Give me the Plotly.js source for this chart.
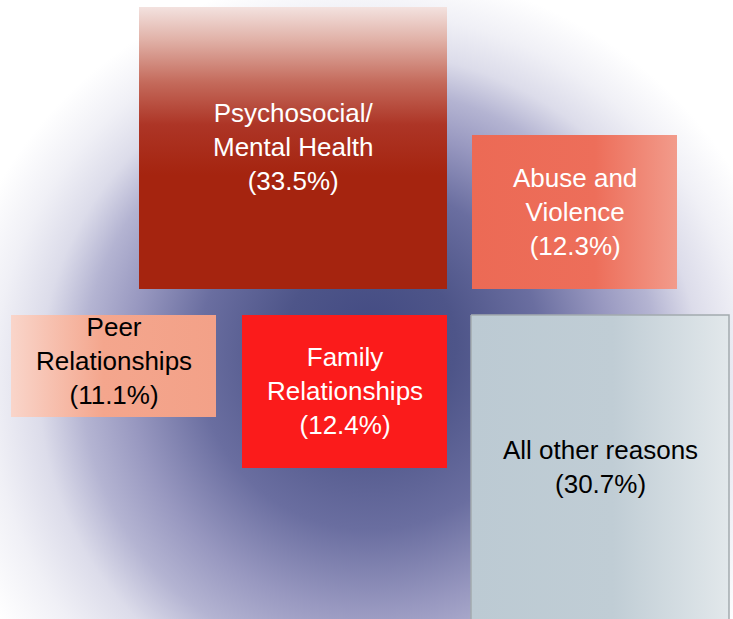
<!DOCTYPE html>
<html>
<head>
<meta charset="utf-8">
<script src="https://cdn.plot.ly/plotly-3.0.1.min.js"></script>
<style>
    html, body { margin: 0; padding: 0; background: #fff; }
    #chart { width: 733px; height: 619px; }
</style>
</head>
<body>
<div id="chart"></div>
<script>
const categories = ["Psychosocial/<br>Mental Health", "Abuse and<br>Violence", "Peer<br>Relationships",
                    "Family<br>Relationships", "All other reasons"];
const shares = [33.5, 12.3, 11.1, 12.4, 30.7];

// where each box sits, in pixel units of the 733x619 slide
const boxLeft   = [139, 472, 11, 242, 471];
const boxRight  = [447, 677, 216, 447, 729];
const boxTop    = [7, 135, 315, 315, 315];
const boxBottom = [289, 289, 417, 468, 660];
const labelNudge = [-1, 0, -5, -1, 0];   // small vertical tweak of each label

const BOX_STYLE = [
    { text: "#ffffff", line: null,
      grad: { type: "vertical", start: 7, stop: 175,
              colorscale: [[0, "#f3e2df"], [0.2, "#e0b0a6"], [0.45, "#c46a5b"], [0.7, "#ad3526"], [1, "#a5240f"]] } },
    { text: "#ffffff", line: null,
      grad: { type: "horizontal", start: 472, stop: 677,
              colorscale: [[0, "#ec6a55"], [0.6, "#ed6e5a"], [1, "#f29b8b"]] } },
    { text: "#000000", line: null,
      grad: { type: "horizontal", start: 11, stop: 216,
              colorscale: [[0, "#f9d5ca"], [0.45, "#f4a68d"], [1, "#f3a188"]] } },
    { text: "#ffffff", line: null,
      grad: { type: "horizontal", start: 242, stop: 447,
              colorscale: [[0, "#fb1b1b"], [1, "#fb1b1b"]] } },
    { text: "#000000", line: "#a3aaae",
      grad: { type: "horizontal", start: 471, stop: 729,
              colorscale: [[0, "#bccad3"], [0.55, "#c0cdd5"], [1, "#e2e8eb"]] } },
];

// slide background: navy radial glow behind the boxes (drawn as a layout image).
// focal point sits above the circle centre so the glow fades faster upwards
const BG_STOPS = [[0, "#434b83"], [0.2, "#4e5589"], [0.4, "#6a6ea0"], [0.56, "#9898c0"],
                  [0.67, "#b4b4d2"], [0.77, "#dcdcea"], [0.88, "#f0f0f6"], [1, "#ffffff"]];

function backgroundImage() {
    const stops = BG_STOPS.map(([o, c]) => `<stop offset='${o}' stop-color='${c}'/>`).join("");
    const svg = "<svg xmlns='http://www.w3.org/2000/svg' width='733' height='619' viewBox='0 0 733 619'>" +
        "<defs><radialGradient id='g' gradientUnits='userSpaceOnUse' cx='370' cy='400' r='430' fx='370' fy='330'>" +
        stops + "</radialGradient></defs><rect width='733' height='619' fill='url(#g)'/></svg>";
    return "data:image/svg+xml;charset=utf-8," + encodeURIComponent(svg);
}

const traces = [];
const annotations = [];

categories.forEach((name, i) => {
    const st = BOX_STYLE[i];
    const x0 = boxLeft[i], x1 = boxRight[i], y0 = boxTop[i], y1 = boxBottom[i];
    traces.push({
        x: [x0, x1, x1, x0, x0],
        y: [y0, y0, y1, y1, y0],
        mode: "lines", fill: "toself",
        line: st.line ? { color: st.line, width: 1.5 } : { width: 0 },
        fillgradient: st.grad,
        hoverinfo: "skip", showlegend: false,
    });
    annotations.push({
        x: (x0 + x1) / 2,
        y: (y0 + Math.min(y1, 619)) / 2 + labelNudge[i],
        xref: "x", yref: "y",
        text: name + "<br>(" + shares[i].toFixed(1) + "%)",
        showarrow: false,
        xanchor: "center", yanchor: "middle", align: "center",
        font: { family: "Liberation Sans, Arial, sans-serif", size: 26, color: st.text },
    });
});

const layout = {
    width: 733, height: 619,
    margin: { t: 0, b: 0, l: 0, r: 0 },
    xaxis: { range: [0, 733], visible: false, fixedrange: true },
    yaxis: { range: [619, 0], visible: false, fixedrange: true },
    paper_bgcolor: "#ffffff",
    plot_bgcolor: "rgba(0,0,0,0)",
    images: [{
        source: backgroundImage(),
        xref: "paper", yref: "paper", x: 0, y: 1, sizex: 1, sizey: 1,
        xanchor: "left", yanchor: "top", sizing: "stretch", layer: "below",
    }],
    annotations,
    showlegend: false,
    dragmode: false,
};

Plotly.newPlot("chart", traces, layout, { responsive: false, displayModeBar: false, staticPlot: true });
</script>
</body>
</html>
